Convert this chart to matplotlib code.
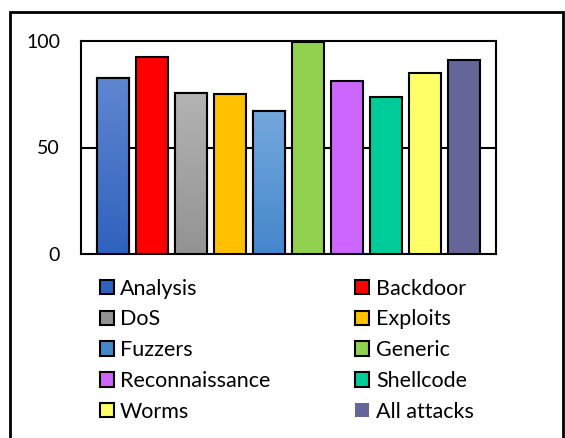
import numpy as np
import matplotlib
matplotlib.use("Agg")
import matplotlib.pyplot as plt
from matplotlib.patches import Patch, Rectangle
from matplotlib.colors import LinearSegmentedColormap

plt.rcParams['font.family'] = ['Lato', 'DejaVu Sans']

attacks = ['Analysis', 'Backdoor', 'DoS', 'Exploits', 'Fuzzers',
           'Generic', 'Reconnaissance', 'Shellcode', 'Worms', 'All attacks']
scores = [82.5, 92.7, 75.5, 75.3, 67.0, 99.5, 81.3, 73.6, 85.2, 91.0]
# (top colour, bottom colour) per bar; equal pairs are flat fills
colors = [('#5F86D0', '#2F62BE'), ('#FF0000', '#FF0000'), ('#B3B3B3', '#939393'),
          ('#FFC000', '#FFC000'), ('#74A8DD', '#4487CB'), ('#92D050', '#92D050'),
          ('#CC66FF', '#CC66FF'), ('#00CC99', '#00CC99'), ('#FFFF66', '#FFFF66'),
          ('#666699', '#666699')]
y_ticks = [0, 50, 100]

fig = plt.figure(figsize=(5.65, 4.38), dpi=100)
ax = fig.add_axes([81 / 565, 1 - 254 / 438, 415 / 565, 213 / 438])

x = np.arange(len(attacks))
bars = ax.bar(x, scores, width=0.82, color=[c[1] for c in colors],
              edgecolor='black', linewidth=1.5, zorder=3)

# vertical gradient for the shaded bars
for bar, (top, bottom) in zip(bars, colors):
    if top == bottom:
        continue
    cmap = LinearSegmentedColormap.from_list('g', [bottom, top])
    x0, w, h = bar.get_x(), bar.get_width(), bar.get_height()
    grad = np.linspace(0, 1, 256).reshape(-1, 1)
    im = ax.imshow(grad, cmap=cmap, origin='lower', aspect='auto',
                   extent=[x0, x0 + w, 0, h], zorder=3.5)
    im.set_clip_path(bar)
    ax.add_patch(Rectangle((x0, 0), w, h, fill=False, edgecolor='black',
                           linewidth=1.5, zorder=4))

ax.set_xlim(-0.82, len(attacks) - 1 + 0.82)
ax.set_ylim(0, 100)
ax.set_yticks(y_ticks)
ax.set_xticks([])
ax.tick_params(axis='y', length=0, pad=15, labelsize=14)
ax.axhline(50, color='black', linewidth=1.5, zorder=1)
for s in ax.spines.values():
    s.set_linewidth(1.5)

handles = []
for name, (top, bottom) in zip(attacks, colors):
    mid = top if top == bottom else bottom
    edge = 'none' if name == 'All attacks' else 'black'
    handles.append(Patch(facecolor=mid, edgecolor=edge, linewidth=1.5, label=name))
order = [0, 2, 4, 6, 8, 1, 3, 5, 7, 9]
fig.legend([handles[i] for i in order], [attacks[i] for i in order],
           ncol=2, loc='upper left', bbox_to_anchor=(91 / 565, 1 - 270 / 438),
           frameon=False, fontsize=15.5, handlelength=0.65, handleheight=0.65,
           handletextpad=0.3, labelspacing=0.5, columnspacing=3.95, borderaxespad=0)

fig.patches.append(Rectangle((10 / 565, -0.05), 553 / 565, 1.05 - 12 / 438,
                             transform=fig.transFigure, fill=False,
                             edgecolor='black', linewidth=2))

fig.savefig('out.png', dpi=100)
